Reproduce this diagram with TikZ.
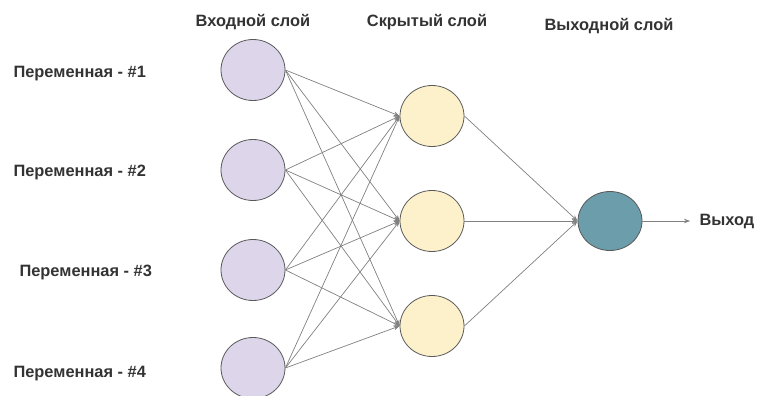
\documentclass[tikz,border=0pt]{standalone}
\usepackage{fontspec}
\setmainfont{Liberation Sans}
\usepackage{xcolor}
\usetikzlibrary{positioning,arrows.meta,shapes.geometric}
\definecolor{infill}{HTML}{DDD5EA}
\definecolor{hidfill}{HTML}{FDF1CB}
\definecolor{outfill}{HTML}{6B9DAA}
\begin{document}
\begin{tikzpicture}[x=1pt, y=-1pt, font=\bfseries\fontsize{16.4}{19}\selectfont, text=black!80,
		neuron/.style={draw=black!65, thick, ellipse, minimum width=64pt, minimum height=61pt},
		link/.style={draw=black!50, line width=0.7pt, -{Stealth[length=6pt,width=4.5pt]}}]
		\useasboundingbox (0,0) rectangle (760,396);
		% layer titles
		\node (tin) at (253,22) {Входной слой};
		\node (thid) at (427,22) {Скрытый слой};
		\node (tout) at (609,26) {Выходной слой};
		% input layer
		\node[neuron, fill=infill] (i1) at (253,70) {};
		\node[neuron, fill=infill] (i2) at (253,170) {};
		\node[neuron, fill=infill] (i3) at (253,270) {};
		\node[neuron, fill=infill] (i4) at (253,368) {};
		\node[anchor=west] (var1) at (10,74) {Переменная - \#1};
		\node[anchor=west] (var2) at (10,172) {Переменная - \#2};
		\node[anchor=west] (var3) at (16,272) {Переменная - \#3};
		\node[anchor=west] (var4) at (10,374) {Переменная - \#4};
		% hidden layer
		\node[neuron, fill=hidfill] (h1) at (432,116) {};
		\node[neuron, fill=hidfill] (h2) at (432,221) {};
		\node[neuron, fill=hidfill] (h3) at (432,326) {};
		% output
		\node[neuron, fill=outfill, minimum height=59pt] (o) at (610,221) {};
		\node[anchor=west] (res) at (696,221) {Выход};
		\foreach \i in {1,...,4}
			\foreach \j in {1,2,3}
				\draw[link] (i\i.east) -- (h\j.west);
		\foreach \j in {1,2,3}
			\draw[link] (h\j.east) -- (o.west);
		\draw[link, shorten >=6pt] (o.east) -- (res.west);
	\end{tikzpicture}
\end{document}
